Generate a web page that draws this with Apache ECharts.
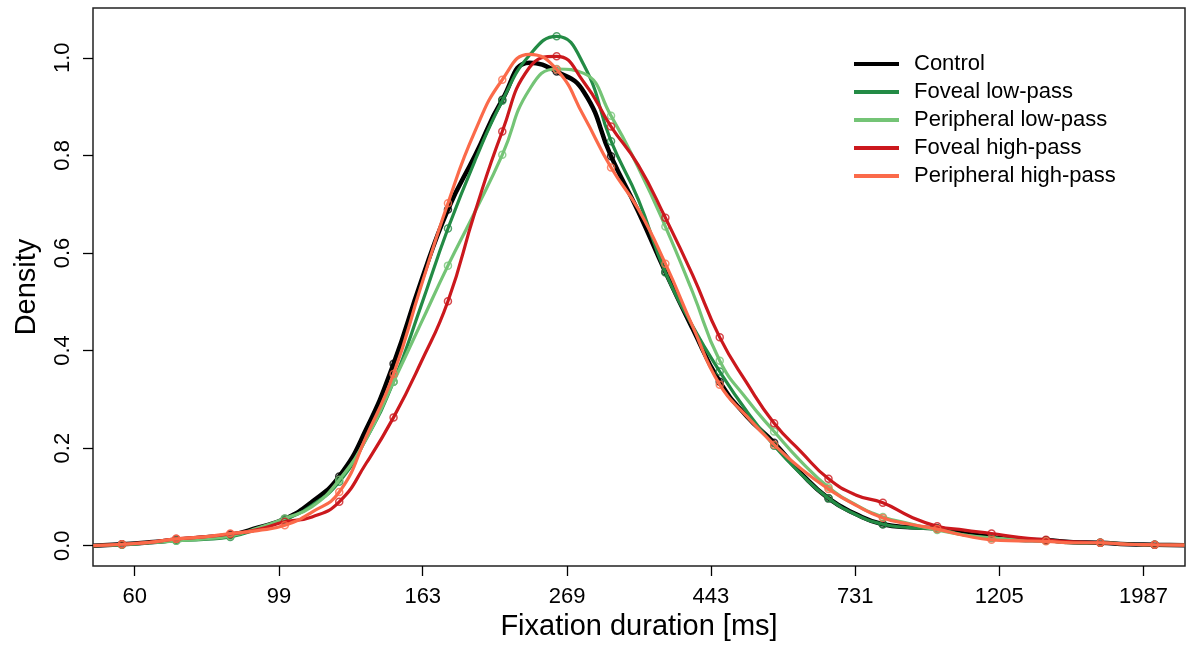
<!DOCTYPE html>
<html>
<head>
<meta charset="utf-8">
<script src="https://cdn.jsdelivr.net/npm/echarts@6/dist/echarts.min.js"></script>
<style>
  html, body { margin: 0; padding: 0; background: #fff; }
  #chart { width: 1186px; height: 645px; }
</style>
</head>
<body>
<div id="chart"></div>
<script>
// x positions in ms (log-spaced bins), circles sit on binMs, curve also passes midMs
const binMs = [57.4, 69.3, 83.6, 101.0, 122.0, 147.3, 177.9, 214.8, 259.4, 313.3,
  378.3, 456.8, 551.7, 666.2, 804.5, 971.5, 1173, 1417, 1711, 2066];
const midMs = [63.1, 76.2, 91.9, 111.0, 134.1, 161.9, 195.5, 236.0, 285.1, 344.3,
  415.7, 502.0, 606.3, 732.1, 884.1, 1067.6, 1289, 1557, 1880];
const edgeMs = [52, 2290];
const xTickLabels = [60, 99, 163, 269, 443, 731, 1205, 1987];
const yTicks = [0, 0.2, 0.4, 0.6, 0.8, 1.0];

const seriesNames = ['Control', 'Foveal low-pass', 'Peripheral low-pass', 'Foveal high-pass', 'Peripheral high-pass'];

// density at the circles
const controlPts = [0.003, 0.012, 0.022, 0.055, 0.142, 0.373, 0.689, 0.914, 0.972, 0.798,
  0.561, 0.336, 0.211, 0.097, 0.044, 0.036, 0.018, 0.011, 0.006, 0.002];
const fovLowPts = [0.002, 0.010, 0.018, 0.053, 0.131, 0.336, 0.650, 0.912, 1.044, 0.829,
  0.560, 0.357, 0.205, 0.097, 0.044, 0.034, 0.016, 0.010, 0.006, 0.002];
const perLowPts = [0.002, 0.010, 0.020, 0.056, 0.135, 0.336, 0.574, 0.801, 0.977, 0.881,
  0.654, 0.379, 0.234, 0.120, 0.059, 0.032, 0.016, 0.010, 0.006, 0.002];
const fovHighPts = [0.003, 0.014, 0.024, 0.049, 0.090, 0.263, 0.501, 0.849, 1.003, 0.859,
  0.672, 0.427, 0.251, 0.137, 0.088, 0.040, 0.025, 0.012, 0.006, 0.002];
const perHighPts = [0.003, 0.014, 0.025, 0.042, 0.110, 0.352, 0.702, 0.955, 0.976, 0.775,
  0.578, 0.330, 0.207, 0.116, 0.057, 0.034, 0.012, 0.009, 0.006, 0.002];

// density between the circles
const controlMid = [0.007, 0.017, 0.037, 0.090, 0.240, 0.540, 0.800, 0.990, 0.930, 0.685,
  0.445, 0.265, 0.148, 0.065, 0.038, 0.025, 0.012, 0.007, 0.003];
const fovLowMid = [0.006, 0.013, 0.034, 0.083, 0.220, 0.490, 0.790, 1.005, 0.985, 0.710,
  0.450, 0.275, 0.146, 0.064, 0.037, 0.022, 0.011, 0.006, 0.003];
const perLowMid = [0.006, 0.014, 0.036, 0.080, 0.220, 0.455, 0.685, 0.935, 0.968, 0.775,
  0.520, 0.300, 0.172, 0.084, 0.045, 0.022, 0.012, 0.007, 0.003];
const fovHighMid = [0.007, 0.018, 0.033, 0.059, 0.170, 0.375, 0.685, 0.980, 0.950, 0.780,
  0.555, 0.333, 0.192, 0.104, 0.060, 0.032, 0.017, 0.008, 0.003];
const perHighMid = [0.007, 0.018, 0.031, 0.069, 0.225, 0.530, 0.850, 1.007, 0.880, 0.690,
  0.450, 0.265, 0.157, 0.083, 0.044, 0.021, 0.010, 0.006, 0.003];

const edgeVals = [0.0, 0.001];

const pts = [controlPts, fovLowPts, perLowPts, fovHighPts, perHighPts];
const mids = [controlMid, fovLowMid, perLowMid, fovHighMid, perHighMid];
const colors = ['#000000', '#238b45', '#74c476', '#cb181d', '#fb6a4a'];
const widths = [4.5, 3.2, 3.2, 3.2, 3.2];

const FONT = '"Liberation Sans", Arial, Helvetica, sans-serif';

function curveData(p, m) {
  const out = [[Math.log(edgeMs[0]), edgeVals[0]]];
  for (let i = 0; i < binMs.length; i++) {
    out.push([Math.log(binMs[i]), p[i]]);
    if (i < midMs.length) out.push([Math.log(midMs[i]), m[i]]);
  }
  out.push([Math.log(edgeMs[1]), edgeVals[1]]);
  return out;
}

const series = [];
seriesNames.forEach((name, k) => {
  series.push({
    name: name,
    type: 'line',
    smooth: 0.5,
    symbol: 'none',
    clip: true,
    z: 2 + k * 2,
    itemStyle: { color: colors[k] },
    lineStyle: { color: colors[k], width: widths[k] },
    data: curveData(pts[k], mids[k])
  });
  series.push({
    name: name + ' bins',
    type: 'scatter',
    symbol: 'circle',
    symbolSize: 7,
    z: 3 + k * 2,
    itemStyle: { color: 'rgba(0,0,0,0)', borderColor: colors[k], borderWidth: 1.5 },
    data: binMs.map((ms, i) => [Math.log(ms), pts[k][i]])
  });
});

const myChart = echarts.init(document.getElementById('chart'), null, { renderer: 'canvas' });
myChart.setOption({
  animation: false,
  backgroundColor: '#ffffff',
  textStyle: { fontFamily: FONT },
  grid: {
    left: 93,
    right: 1,
    top: 8,
    bottom: 79,
    containLabel: false,
    outerBoundsMode: 'none',
    show: true,
    borderColor: '#222',
    borderWidth: 1.5
  },
  legend: {
    orient: 'vertical',
    left: 849,
    top: 45,
    icon: 'rect',
    itemWidth: 45,
    itemHeight: 4,
    itemGap: 0,
    data: seriesNames,
    textStyle: {
      fontFamily: FONT,
      fontSize: 22,
      lineHeight: 28,
      color: '#000',
      padding: [0, 0, 0, 10]
    }
  },
  xAxis: {
    type: 'value',
    min: 3.9496,
    max: 7.7386,
    name: 'Fixation duration [ms]',
    nameLocation: 'middle',
    nameGap: 46,
    nameTextStyle: { fontFamily: FONT, fontSize: 29, color: '#000' },
    axisLine: { show: false, onZero: false },
    splitLine: { show: false },
    axisTick: {
      show: true,
      length: 10,
      customValues: xTickLabels.map(v => Math.log(v)),
      lineStyle: { color: '#000', width: 1.3 }
    },
    axisLabel: {
      customValues: xTickLabels.map(v => Math.log(v)),
      margin: 20,
      fontFamily: FONT,
      fontSize: 22,
      color: '#000',
      formatter(value) {
        return String(Math.round(Math.exp(value)));
      }
    }
  },
  yAxis: {
    type: 'value',
    min: -0.0416,
    max: 1.102,
    name: 'Density',
    nameLocation: 'middle',
    nameGap: 52,
    nameRotate: 90,
    nameTextStyle: { fontFamily: FONT, fontSize: 29, color: '#000' },
    axisLine: { show: false, onZero: false },
    splitLine: { show: false },
    axisTick: {
      show: true,
      length: 10,
      customValues: yTicks,
      lineStyle: { color: '#000', width: 1.3 }
    },
    axisLabel: {
      customValues: yTicks,
      rotate: 90,
      margin: 19,
      fontFamily: FONT,
      fontSize: 22,
      color: '#000',
      formatter(value) {
        return value.toFixed(1);
      }
    }
  },
  series: series
});
</script>
</body>
</html>
